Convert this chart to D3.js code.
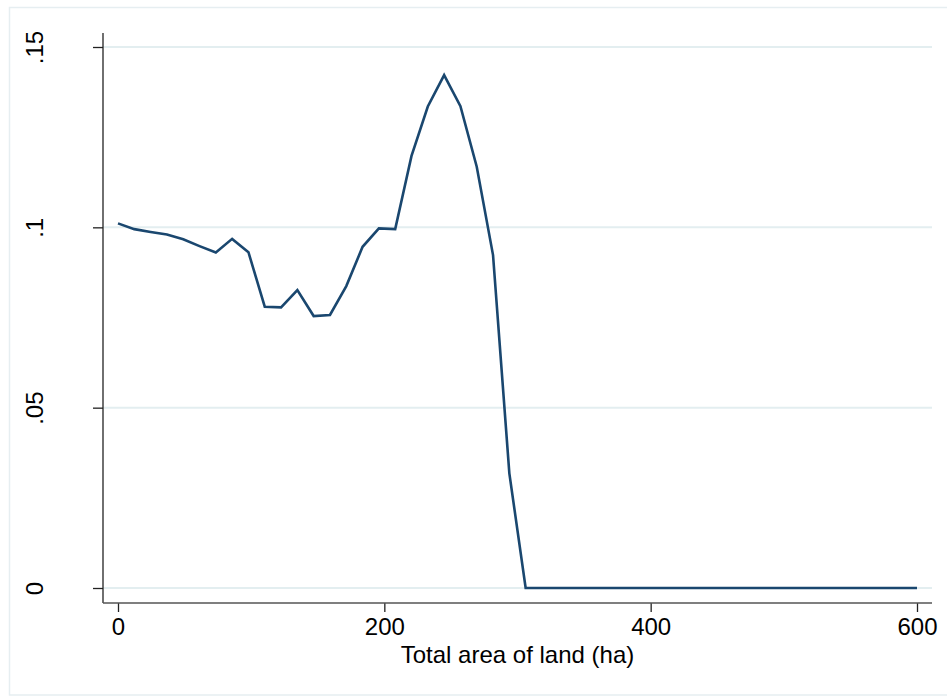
<!DOCTYPE html>
<html>
<head>
<meta charset="utf-8">
<script src="https://cdn.jsdelivr.net/npm/d3@7"></script>
<style>
  html, body { margin: 0; padding: 0; background: #fff; }
  svg text { font-family: "Liberation Sans", Arial, Helvetica, sans-serif; fill: #000; }
</style>
</head>
<body>
<svg id="chart" width="947" height="696"></svg>
<script>
// Land area (ha) and the corresponding share of plots
const landArea = [0, 12.24, 24.49, 36.73, 48.98, 61.22, 73.47, 85.71, 97.96, 110.2,
                  122.45, 134.69, 146.94, 159.18, 171.43, 183.67, 195.92, 208.16, 220.41, 232.65,
                  244.9, 257.14, 269.39, 281.63, 293.88, 306.12, 600];
const share = [0.1011, 0.0995, 0.0987, 0.0980, 0.0967, 0.0948, 0.0930, 0.0968, 0.0931, 0.0780,
               0.0778, 0.0826, 0.0754, 0.0757, 0.0837, 0.0946, 0.0997, 0.0995, 0.1198, 0.1335,
               0.1422, 0.1336, 0.1168, 0.0923, 0.0318, 0, 0];

const xTicks = [0, 200, 400, 600];
const xTickLabels = ["0", "200", "400", "600"];
const yTicks = [0, 0.05, 0.1, 0.15];
const yTickLabels = ["0", ".05", ".1", ".15"];
const xTitle = "Total area of land (ha)";

const svg = d3.select("#chart");

// Outer graph frame
svg.append("rect")
  .attr("x", 9.5).attr("y", 7.5)
  .attr("width", 945).attr("height", 687.5)
  .attr("fill", "#fff")
  .attr("stroke", "#e6eef1").attr("stroke-width", 1.5);

// Plot region
const plot = { left: 103, right: 932, top: 33, bottom: 603 };

const x = d3.scaleLinear().domain([0, 600]).range([118, 917]);
const y = d3.scaleLinear().domain([0, 0.15]).range([588, 47]);

// Horizontal gridlines
svg.append("g")
  .selectAll("line")
  .data(yTicks)
  .join("line")
  .attr("x1", plot.left).attr("x2", plot.right)
  .attr("y1", d => y(d)).attr("y2", d => y(d))
  .attr("stroke", "#e3eef0").attr("stroke-width", 2);

// Y axis
const yAxis = svg.append("g")
  .attr("transform", `translate(${plot.left},0)`)
  .call(d3.axisLeft(y)
    .tickValues(yTicks)
    .tickFormat((d, i) => yTickLabels[i])
    .tickSize(10)
    .tickPadding(0));
yAxis.select(".domain").remove();
yAxis.selectAll(".tick line").attr("stroke", "#222").attr("stroke-width", 1.3);
yAxis.selectAll(".tick text")
  .attr("font-size", 24)
  .attr("text-anchor", "middle")
  .attr("dy", null)
  .attr("x", null)
  .attr("transform", "translate(-60,0) rotate(-90)")
  .attr("y", 0);
yAxis.append("line")
  .attr("x1", 0).attr("x2", 0)
  .attr("y1", plot.top).attr("y2", plot.bottom)
  .attr("stroke", "#222").attr("stroke-width", 1.3);

// X axis
const xAxis = svg.append("g")
  .attr("transform", `translate(0,${plot.bottom})`)
  .call(d3.axisBottom(x)
    .tickValues(xTicks)
    .tickFormat((d, i) => xTickLabels[i])
    .tickSize(9)
    .tickPadding(6));
xAxis.select(".domain").remove();
xAxis.selectAll(".tick line").attr("stroke", "#222").attr("stroke-width", 1.3);
xAxis.selectAll(".tick text").attr("font-size", 24).attr("dy", "0.71em");
xAxis.append("line")
  .attr("x1", plot.left).attr("x2", plot.right)
  .attr("y1", 0).attr("y2", 0)
  .attr("stroke", "#555").attr("stroke-width", 1.6);

// Axis title
svg.append("text")
  .attr("x", (x(0) + x(600)) / 2)
  .attr("y", 663)
  .attr("text-anchor", "middle")
  .attr("font-size", 24)
  .text(xTitle);

// Series line
const pts = landArea.map((v, i) => [v, share[i]]);
svg.append("path")
  .datum(pts)
  .attr("fill", "none")
  .attr("stroke", "#1a476f")
  .attr("stroke-width", 2.6)
  .attr("stroke-linejoin", "miter")
  .attr("d", d3.line().x(d => x(d[0])).y(d => y(d[1])));
</script>
</body>
</html>
